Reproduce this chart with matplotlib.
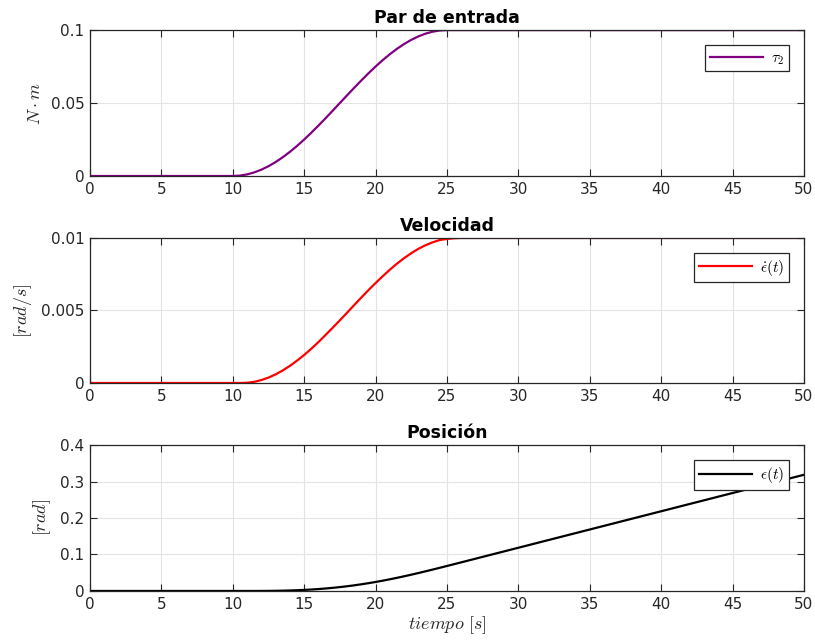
import matplotlib
matplotlib.use("Agg")
import matplotlib.pyplot as plt

plt.rcParams['mathtext.fontset'] = 'cm'
plt.rcParams['font.family'] = ['DejaVu Sans']

# time samples (s)
t = [0, 5, 10, 10.5, 11, 11.5, 12, 12.5, 13, 13.5, 14, 14.5, 15, 15.5, 16,
     16.5, 17, 17.5, 18, 18.5, 19, 19.5, 20, 20.5, 21, 21.5, 22, 22.5, 23,
     23.5, 24, 24.5, 25, 25.5, 26, 30, 35, 40, 45, 50]

# input torque tau_2 (N·m)
torque = [0, 0, 0, 0.00027, 0.00109, 0.00245, 0.00432, 0.0067, 0.00955,
          0.01284, 0.01654, 0.02061, 0.025, 0.02966, 0.03455, 0.0396, 0.04477,
          0.05, 0.05523, 0.0604, 0.06545, 0.07034, 0.075, 0.07939, 0.08346,
          0.08716, 0.09045, 0.0933, 0.09568, 0.09755, 0.09891, 0.09973, 0.1,
          0.1, 0.1, 0.1, 0.1, 0.1, 0.1, 0.1]

# velocity (rad/s)
velocity = [0, 0, 0, 0, 0.0000134, 0.000079, 0.000199, 0.000371, 0.000593,
            0.000865, 0.00118, 0.00154, 0.00193, 0.00236, 0.00282, 0.00331,
            0.00381, 0.00432, 0.00484, 0.00537, 0.00589, 0.0064, 0.00689,
            0.00736, 0.00781, 0.00823, 0.00861, 0.00895, 0.00925, 0.0095,
            0.0097, 0.00986, 0.00993, 0.00998, 0.01, 0.01, 0.01, 0.01, 0.01,
            0.01]

# position (rad)
position = [0, 0, 0, 0, 0.0000034, 0.0000265, 0.000096, 0.000238, 0.000479,
            0.000844, 0.001355, 0.002035, 0.002903, 0.003976, 0.005271,
            0.006804, 0.008584, 0.010617, 0.012907, 0.01546, 0.018275,
            0.021348, 0.024671, 0.028234, 0.032027, 0.036037, 0.040247,
            0.044637, 0.049187, 0.053875, 0.058675, 0.063565, 0.068513,
            0.073491, 0.078486, 0.1185, 0.1685, 0.2185, 0.2685, 0.3185]

titles = ['Par de entrada', 'Velocidad', 'Posición']
ylabels = [r'$N \cdot m$', r'$[rad/s]$', r'$[rad]$']
legends = [r'$\tau_2$', r'$\dot{\epsilon}(t)$', r'$\epsilon(t)$']
colors = ['#800080', '#ff0000', '#000000']
yticks = [[0, 0.05, 0.1], [0, 0.005, 0.01], [0, 0.1, 0.2, 0.3, 0.4]]
yticklabels = [['0', '0.05', '0.1'], ['0', '0.005', '0.01'],
               ['0', '0.1', '0.2', '0.3', '0.4']]
xticks = list(range(0, 55, 5))

series = [torque, velocity, position]

fig = plt.figure(figsize=(8.15, 6.4), dpi=100)
positions = [[0.1104, 0.725, 0.876, 0.228],
             [0.1104, 0.4016, 0.876, 0.2266],
             [0.1104, 0.0766, 0.876, 0.228]]

dark = '#262626'
for i in range(3):
    ax = fig.add_axes(positions[i])
    ax.plot(t, series[i], color=colors[i], lw=1.6, label=legends[i])
    ax.set_xlim(0, 50)
    ax.set_ylim(yticks[i][0], yticks[i][-1])
    ax.set_xticks(xticks)
    ax.set_yticks(yticks[i])
    ax.set_yticklabels(yticklabels[i])
    ax.grid(True, color='#e3e3e3', lw=0.8)
    ax.tick_params(direction='in', top=True, right=True, length=5,
                   width=0.8, colors=dark, labelsize=11, pad=4)
    for s in ax.spines.values():
        s.set_color(dark)
        s.set_linewidth(0.9)
    ax.set_title(titles[i], fontsize=12.5, fontweight='bold', pad=5)
    ax.set_ylabel(ylabels[i], fontsize=13, color=dark, labelpad=5)
    leg = ax.legend(loc='upper right', fancybox=False, framealpha=1,
                    edgecolor=dark, fontsize=11, handlelength=3.5,
                    borderaxespad=1.0, handletextpad=0.5,
                    borderpad=0.3)
    leg.get_frame().set_linewidth(0.9)
    if i == 2:
        ax.set_xlabel(r'$tiempo\ [s]$', fontsize=13, color=dark, labelpad=2)

fig.savefig('out.png', dpi=100)
